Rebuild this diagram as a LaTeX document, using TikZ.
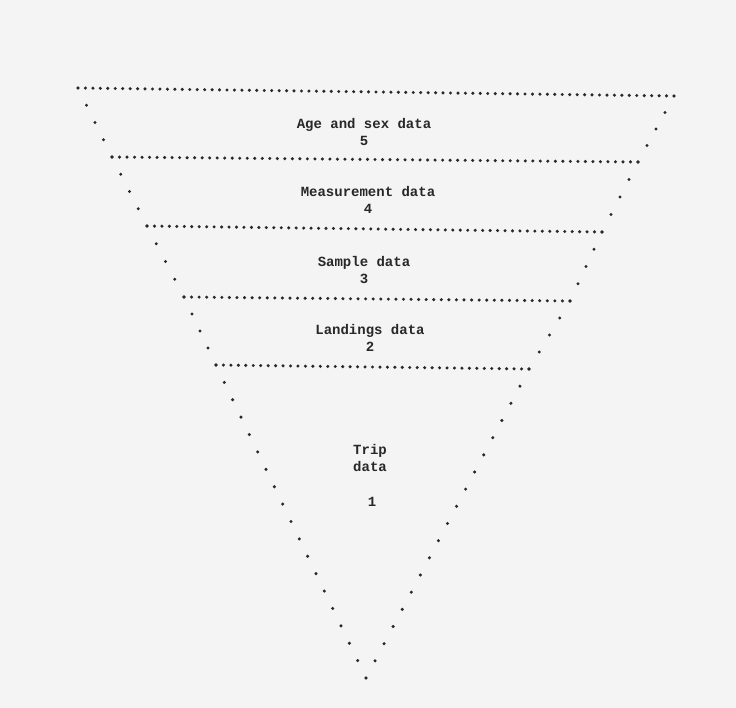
\documentclass[tikz,border=0pt]{standalone}
\usepackage{fontspec}
\setmonofont{Liberation Mono}
\usetikzlibrary{calc}
\definecolor{paper}{RGB}{244,244,244}
\definecolor{ink}{RGB}{40,40,40}
\tikzset{
  lbl/.style={font=\ttfamily\bfseries\fontsize{14}{17}\selectfont, text=ink, align=center, inner sep=0pt},
}
\newcommand{\dotrow}[3]{%
  \foreach \i in {0,...,#3}{\fill[ink] ($(#1)!\i/#3!(#2)$) circle (1.7pt);}%
}
\begin{document}
\begin{tikzpicture}[x=1pt,y=-1pt]
\useasboundingbox (0,0) rectangle (736,708);
\fill[paper] (0,0) rectangle (736,708);
% corner coordinates
\coordinate (L1) at (78,88);   \coordinate (R1) at (674,96);
\coordinate (L2) at (112,157); \coordinate (R2) at (638,162);
\coordinate (L3) at (147,226); \coordinate (R3) at (602,232);
\coordinate (L4) at (184,297); \coordinate (R4) at (570,301);
\coordinate (L5) at (216,365); \coordinate (R5) at (529,369);
\coordinate (A) at (366,678);
% horizontal dotted lines
\dotrow{L1}{R1}{80}
\dotrow{L2}{R2}{70}
\dotrow{L3}{R3}{61}
\dotrow{L4}{R4}{51}
\dotrow{L5}{R5}{42}
% sides
\dotrow{L1}{L2}{4} \dotrow{L2}{L3}{4} \dotrow{L3}{L4}{4} \dotrow{L4}{L5}{4} \dotrow{L5}{A}{18}
\dotrow{R1}{R2}{4} \dotrow{R2}{R3}{4} \dotrow{R3}{R4}{4} \dotrow{R4}{R5}{4} \dotrow{R5}{A}{18}
% labels
\node[lbl] (t5) at (364,132) {Age and sex data\\5};
\node[lbl] (t4) at (368,200) {Measurement data\\4};
\node[lbl] (t3) at (364,270) {Sample data\\3};
\node[lbl] (t2) at (370,338) {Landings data\\2};
\node[lbl] (t1) at (370,458) {Trip\\data};
\node[lbl] (n1) at (372,502) {1};
\end{tikzpicture}
\end{document}
